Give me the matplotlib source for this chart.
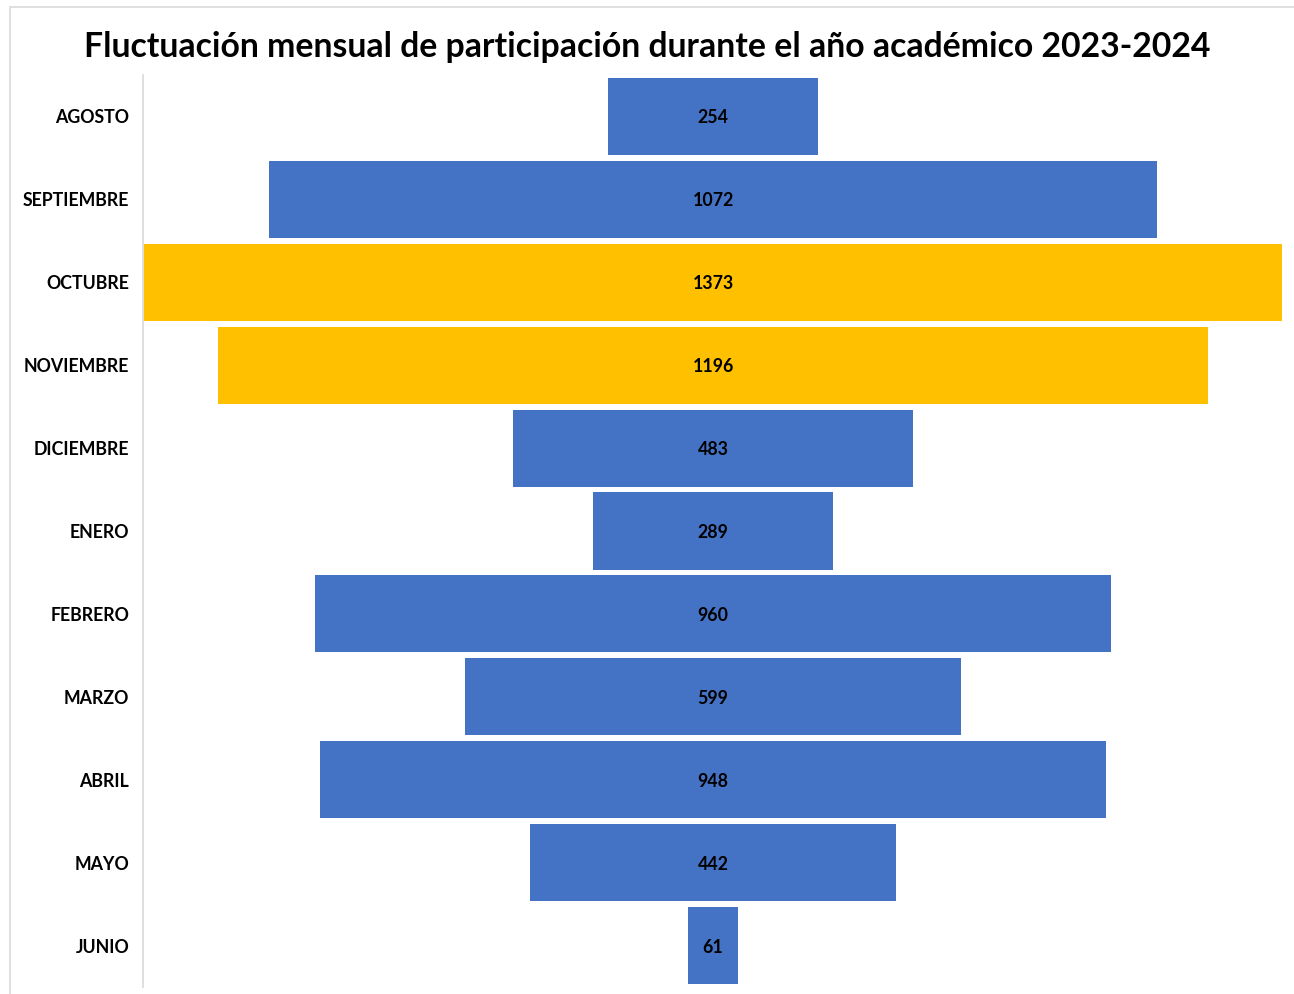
import matplotlib.pyplot as plt
from matplotlib.patches import Rectangle

# ========== DATA ==========
meses = ["AGOSTO", "SEPTIEMBRE", "OCTUBRE", "NOVIEMBRE", "DICIEMBRE", "ENERO",
         "FEBRERO", "MARZO", "ABRIL", "MAYO", "JUNIO"]
participacion = [254, 1072, 1373, 1196, 483, 289, 960, 599, 948, 442, 61]
destacados = ["OCTUBRE", "NOVIEMBRE"]
# ==========================

AZUL = "#4472C4"
ORO = "#FFC000"

plt.rcParams["font.family"] = ["Lato", "DejaVu Sans"]

fig = plt.figure(figsize=(12.94, 9.94), dpi=100)
ax = fig.add_axes([143 / 1294, 1 - 987 / 994, 1140 / 1294, 912 / 994])

y = list(range(len(meses)))
colores = [ORO if m in destacados else AZUL for m in meses]
lefts = [-v / 2 for v in participacion]
ax.barh(y, participacion, left=lefts, height=0.93, color=colores)

for yi, v in zip(y, participacion):
    ax.text(0, yi, str(v), ha="center", va="center_baseline", fontsize=12.8,
            fontweight="bold", color="black")

ax.set_xlim(-688, 688)
ax.set_ylim(len(meses) - 0.5, -0.5)
ax.set_yticks(y)
ax.set_yticklabels(meses, fontsize=12.8, fontweight="bold", va="center_baseline")
ax.tick_params(axis="y", length=0, pad=10)
ax.set_xticks([])
for s in ["top", "right", "bottom"]:
    ax.spines[s].set_visible(False)
ax.spines["left"].set_color("#D9D9D9")
ax.spines["left"].set_linewidth(1.2)

fig.text(647 / 1294, 1 - 44 / 994, "Fluctuación mensual de participación durante el año académico 2023-2024",
         ha="center", va="center_baseline", fontsize=24.3, fontweight="bold")

# marco gris del gráfico
fig.patches.append(Rectangle((10 / 1294, -0.1), 1.2, 1 - 7 / 994 + 0.1, transform=fig.transFigure,
                             fill=False, edgecolor="#D9D9D9", linewidth=1.2))

fig.savefig("out.png", dpi=100)
